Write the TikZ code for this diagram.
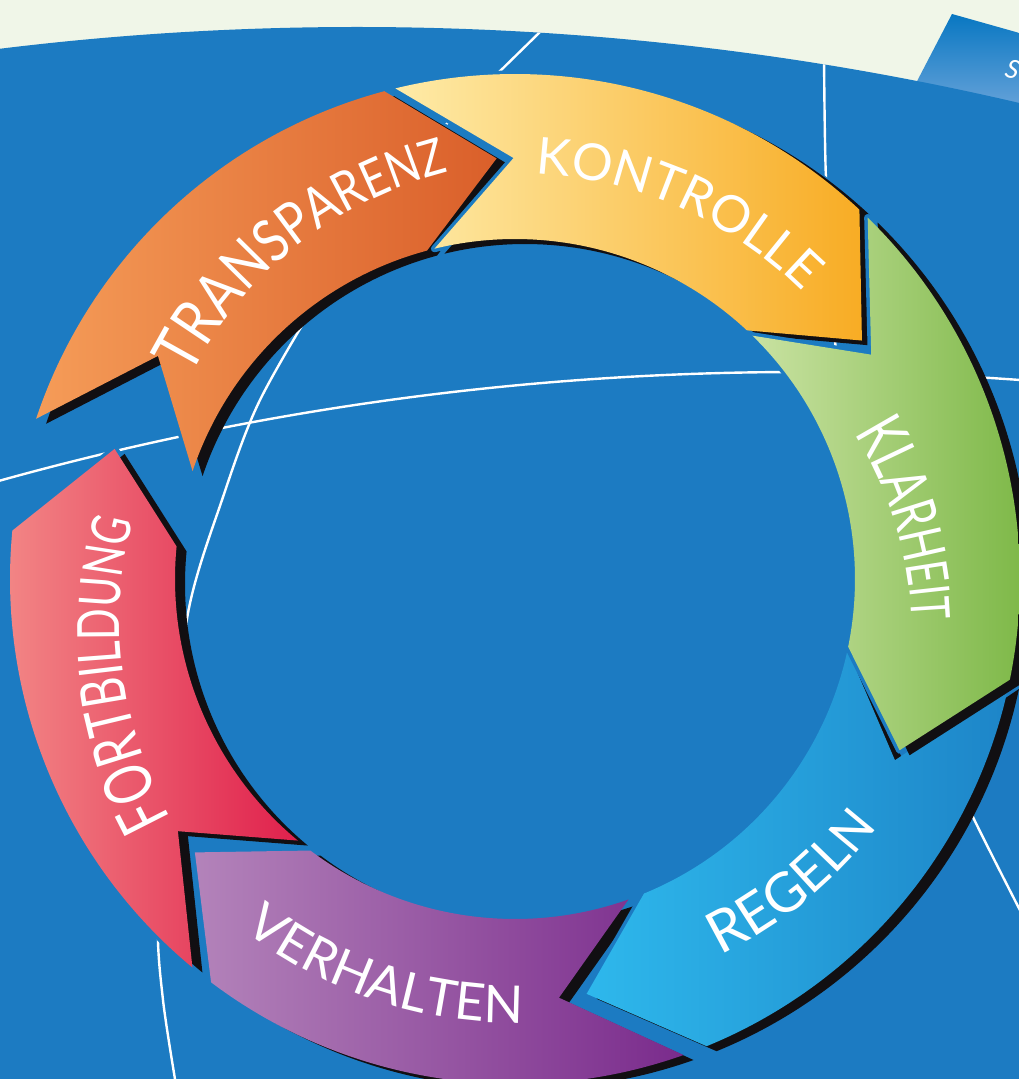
\documentclass[tikz,border=0pt]{standalone}
\usepackage{fontspec}
\setmainfont{Lato}
\newfontfamily\fnA{Lato}[FakeStretch=0.84]
\newfontfamily\fnB{Lato}[FakeStretch=0.7]
\newfontfamily\fnC{Lato}[FakeStretch=0.72]
\newcommand\fsz[1]{\fontsize{#1}{#1}\selectfont}
\usetikzlibrary{decorations.text}
\definecolor{globe}{HTML}{1C7BC2}
\definecolor{cream}{HTML}{F0F6E8}
\definecolor{shad}{HTML}{110F12}
\definecolor{tabtop}{HTML}{0877C2}
\definecolor{tabbot}{HTML}{6AA4DA}
\definecolor{oraL}{HTML}{F59C58}
\definecolor{oraM}{HTML}{F07525}
\definecolor{oraR}{HTML}{DA5F2A}
\definecolor{yelL}{HTML}{FEEBA8}
\definecolor{yelM}{HTML}{FFC72C}
\definecolor{yelR}{HTML}{F8AC24}
\definecolor{greL}{HTML}{C9E2A2}
\definecolor{greR}{HTML}{78B541}
\definecolor{bluL}{HTML}{2EB8EC}
\definecolor{bluR}{HTML}{1D85C8}
\definecolor{vioL}{HTML}{B383BA}
\definecolor{vioR}{HTML}{7A2B8C}
\definecolor{redL}{HTML}{F38987}
\definecolor{redR}{HTML}{E0204C}
\tikzset{
  gridline/.style={white, line width=2.4},
  gapline/.style={globe, line width=7, line join=round},
  shadowfill/.style={shad, shift={(10,-5)}}
}
\newcommand\ringarrow[3]{%
  \draw[gapline] (#1:505) arc[start angle=#1, end angle=#2, radius=505] -- ({#2-12.5}:421) -- (#2:340) arc[start angle=#2, end angle=#1, radius=340] -- ({#1-13.5}:421) -- cycle;
  \fill[shadowfill] (#1:505) arc[start angle=#1, end angle=#2, radius=505] -- ({#2-12.5}:421) -- (#2:340) arc[start angle=#2, end angle=#1, radius=340] -- ({#1-13.5}:421) -- cycle;
  \shade[#3] (#1:505) arc[start angle=#1, end angle=#2, radius=505] -- ({#2-12.5}:421) -- (#2:340) arc[start angle=#2, end angle=#1, radius=340] -- ({#1-13.5}:421) -- cycle;
}
\begin{document}
\begin{tikzpicture}[x=1pt,y=1pt]
\useasboundingbox (-515,-500) rectangle (504,579);
\clip (-515,-500) rectangle (504,579);
\fill[cream] (-515,-500) rectangle (504,579);
\begin{scope}[shift={(-515,579)}, yscale=-1]
  \shade[top color=tabtop, bottom color=tabbot] (952,14) -- (1030,36) -- (1030,112) -- (901,112) -- cycle;
  \fill[globe] (357,2927) circle[radius=2900];
  \begin{scope}
    \clip (357,2927) circle[radius=2900];
    \draw[gridline] (800,3352) circle[radius=2980];
    \draw[gridline] plot[smooth] coordinates {(552,20) (540,32) (494,77) (450,120) (390,195) (330,280) (260,400) (222,500) (188,613) (170,780) (158,920) (163,1000) (176,1085)};
    \draw[gridline] plot[smooth] coordinates {(824,50) (826,180) (835,340) (848,450) (880,600) (938,737) (972,815) (1025,920)};
  \end{scope}
\end{scope}
\node[text=white, rotate=-16, font=\fontsize{26}{26}\selectfont\itshape, anchor=west] (s) at (488,512) {S};
% arrows
\ringarrow{-70.5}{-127}{left color=vioL, right color=vioR}
\ringarrow{-129.7}{-185.5}{left color=redL, right color=redR}
\ringarrow{-12}{-67.7}{left color=bluL, right color=bluR}
\ringarrow{161.5}{105}{left color=oraL, middle color=oraM, right color=oraR}
\ringarrow{103.7}{47}{left color=yelL, middle color=yelM, right color=yelR}
\ringarrow{45.7}{-11.5}{left color=greL, right color=greR}
% labels
\path[decorate, decoration={text along path, text align=center, text color=white, text={|\fsz{51}|KONTROLLE}}] (96:406) arc[start angle=96, end angle=36, radius=406];
\path[decorate, decoration={text along path, text align=center, text color=white,
  text={|\fnA\fsz{65}|T|\fnA\fsz{63.5}|R|\fnA\fsz{62}|A|\fnA\fsz{60.5}|N|\fnA\fsz{59}|S|\fnA\fsz{57.5}|P|\fnA\fsz{56}|A|\fnA\fsz{54.5}|R|\fnA\fsz{53}|E|\fnA\fsz{51.5}|N|\fnA\fsz{50}|Z}}]
  plot[domain=164.4:84.4, samples=41, smooth] (\x:{386+(142.5-\x)*0.62});
\path[decorate, decoration={text along path, text align=center, text color=white,
  text={|\fnB\fsz{66}|K|\fnB\fsz{64.3}|L|\fnB\fsz{62.6}|A|\fnB\fsz{60.9}|R|\fnB\fsz{59.1}|H|\fnB\fsz{57.4}|E|\fnB\fsz{55.7}|I|\fnB\fsz{54}|T}}]
  plot[domain=39.5:-20.5, samples=41, smooth] (\x:{371+(21.5-\x)*1.02});
\path[decorate, decoration={text along path, text align=center, text color=white,
  text={|\fsz{58}|R|\fsz{56.4}|E|\fsz{54.8}|G|\fsz{53.2}|E|\fsz{51.6}|L|\fsz{50}|N}}]
  plot[domain=-78.2:-18.2, samples=41, smooth] (\x:{430+(\x+59.1)*0.365});
\path[decorate, decoration={text along path, text align=center, text color=white, text={|\fsz{52}|VERHALTEN}}] (-143.3:444) arc[start angle=-143.3, end angle=-73.3, radius=444];
\path[decorate, decoration={text along path, text align=center, text color=white,
  text={|\fnC\fsz{68}|F|\fnC\fsz{66.6}|O|\fnC\fsz{65.2}|R|\fnC\fsz{63.8}|T|\fnC\fsz{62.4}|B|\fnC\fsz{61}|I|\fnC\fsz{59.6}|L|\fnC\fsz{58.2}|D|\fnC\fsz{56.8}|U|\fnC\fsz{55.4}|N|\fnC\fsz{54}|G}}]
  plot[domain=232:152, samples=41, smooth] (\x:{388+(\x-173.7)*0.761});
\end{tikzpicture}
\end{document}
